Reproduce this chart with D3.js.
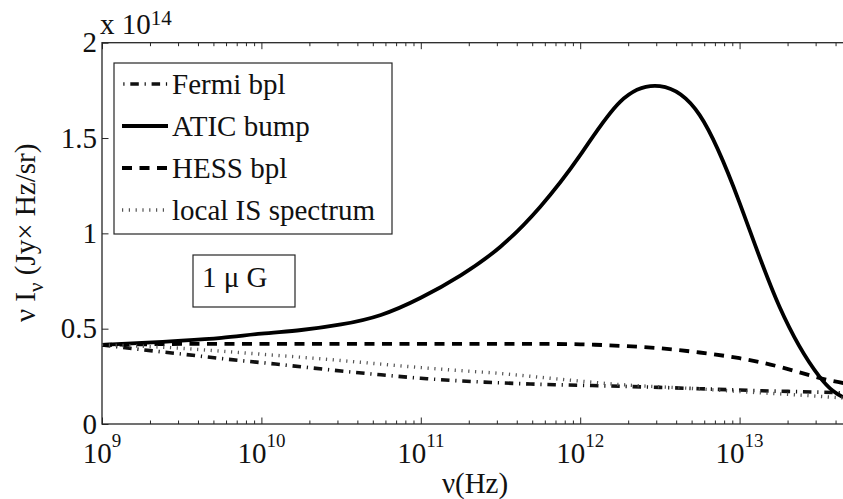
<!DOCTYPE html>
<html>
<head>
<meta charset="utf-8">
<script src="https://cdn.jsdelivr.net/npm/d3@7"></script>
<style>
  body { margin: 0; background: #fff; }
  text { font-family: "Liberation Serif", "Times New Roman", serif; fill: #111; }
</style>
</head>
<body>
<svg id="chart" width="843" height="499"></svg>
<script>
// frequencies (Hz) and nu*I_nu in units of 1e14 Jy Hz/sr
var nu = [1e9, 1.78e9, 3.16e9, 5.62e9, 1e10, 1.78e10, 3.16e10, 5.62e10, 1e11, 1.78e11,
          3.16e11, 5.62e11, 1e12, 1.78e12, 3.16e12, 5.62e12, 1e13, 1.78e13, 3.16e13, 4.47e13];
var fermi = [0.415, 0.39, 0.367, 0.343, 0.322, 0.30, 0.278, 0.258, 0.24, 0.226,
             0.216, 0.208, 0.203, 0.198, 0.192, 0.185, 0.178, 0.172, 0.167, 0.163];
var atic = [0.415, 0.425, 0.437, 0.452, 0.474, 0.493, 0.522, 0.572, 0.662, 0.78,
            0.93, 1.14, 1.41, 1.69, 1.772, 1.62, 1.16, 0.615, 0.25, 0.14];
var hess = [0.415, 0.418, 0.42, 0.42, 0.42, 0.42, 0.42, 0.42, 0.42, 0.42,
            0.42, 0.42, 0.418, 0.41, 0.397, 0.375, 0.345, 0.30, 0.242, 0.215];
var localIS = [0.415, 0.408, 0.397, 0.382, 0.366, 0.35, 0.333, 0.314, 0.296, 0.28,
               0.265, 0.245, 0.225, 0.207, 0.195, 0.184, 0.17, 0.158, 0.145, 0.136];

var seriesNames = ["Fermi bpl", "ATIC bump", "HESS bpl", "local IS spectrum"];
var xMajor = [1e9, 1e10, 1e11, 1e12, 1e13];
var xMajorExp = ["9", "10", "11", "12", "13"];
var yMajor = [0, 0.5, 1, 1.5, 2];
var yLabels = ["0", "0.5", "1", "1.5", "2"];

var svg = d3.select("#chart");
// note: "top" is taken by window.top, so prefix everything
var pLeft = 102, pRight = 851, pTop = 42.7, pBottom = 424;

var x = d3.scaleLog().domain([1e9, 5e13]).range([pLeft, pRight]);
var y = d3.scaleLinear().domain([0, 2]).range([pBottom, pTop]);

svg.append("rect").attr("width", 843).attr("height", 499).attr("fill", "#fff");

svg.append("defs").append("clipPath").attr("id", "plotclip")
  .append("rect").attr("x", pLeft).attr("y", pTop)
  .attr("width", pRight - pLeft).attr("height", pBottom - pTop);

// minor ticks: everything d3 gives for the log scale except the decades
var minor = x.ticks().filter(function(d) { return xMajor.indexOf(d) < 0; });

function tickAxis(axis, tr) {
  var g = svg.append("g").attr("transform", tr).call(axis);
  g.select(".domain").remove();
  g.selectAll("line").attr("stroke", "#262626").attr("stroke-width", 1);
  g.selectAll("text").remove();
  return g;
}

tickAxis(d3.axisBottom(x).tickValues(minor).tickSize(-3.5).tickSizeOuter(0), "translate(0," + pBottom + ")");
tickAxis(d3.axisBottom(x).tickValues(xMajor).tickSize(-6.5).tickSizeOuter(0), "translate(0," + pBottom + ")");
tickAxis(d3.axisTop(x).tickValues(minor).tickSize(-3.5).tickSizeOuter(0), "translate(0," + pTop + ")");
tickAxis(d3.axisTop(x).tickValues(xMajor).tickSize(-6.5).tickSizeOuter(0), "translate(0," + pTop + ")");
tickAxis(d3.axisLeft(y).tickValues(yMajor).tickSize(-6.5).tickSizeOuter(0), "translate(" + pLeft + ",0)");

// frame
svg.append("rect")
  .attr("x", pLeft).attr("y", pTop)
  .attr("width", pRight - pLeft).attr("height", pBottom - pTop)
  .attr("fill", "none").attr("stroke", "#262626").attr("stroke-width", 1.3);

// x tick labels 10^n
xMajor.forEach(function(v, i) {
  var t = svg.append("text")
    .attr("x", x(v)).attr("y", 463)
    .attr("text-anchor", "middle")
    .style("font-size", "29px");
  t.append("tspan").text("10");
  t.append("tspan").attr("dy", -16).style("font-size", "19px").text(xMajorExp[i]);
});

// y tick labels
yMajor.forEach(function(v, i) {
  svg.append("text")
    .attr("x", 97).attr("y", y(v) + 9.5)
    .attr("text-anchor", "end")
    .style("font-size", "29px")
    .text(yLabels[i]);
});

// multiplier
var mult = svg.append("text").attr("x", 100).attr("y", 34).style("font-size", "29px");
mult.append("tspan").text("x 10");
mult.append("tspan").attr("dy", -9).style("font-size", "21px").text("14");

// axis labels
svg.append("text")
  .attr("x", 475).attr("y", 493)
  .attr("text-anchor", "middle")
  .style("font-size", "29px")
  .text("\u03bd(Hz)");

var yl = svg.append("text")
  .attr("transform", "translate(35," + (y(1) - 0.5) + ") rotate(-90)")
  .attr("text-anchor", "middle")
  .style("font-size", "29px");
yl.append("tspan").text("\u03bd I");
yl.append("tspan").attr("dy", 8).style("font-size", "21px").text("\u03bd");
yl.append("tspan").attr("dy", -8).text(" (Jy\u00d7 Hz/sr)");

// curves
var styles = [
  { data: fermi, dash: "8.5,5.8,1.2,5.8", color: "#111", width: 3.6 },
  { data: atic, dash: null, color: "#000", width: 3.8 },
  { data: hess, dash: "10,7.5", color: "#000", width: 3.8 },
  { data: localIS, dash: "1.2,5.6", color: "#555", width: 3.4 }
];

var line = d3.line()
  .x(function(d) { return x(d[0]); })
  .y(function(d) { return y(d[1]); })
  .curve(d3.curveNatural);

var plot = svg.append("g").attr("clip-path", "url(#plotclip)");

styles.forEach(function(s) {
  plot.append("path")
    .attr("d", line(d3.zip(nu, s.data)))
    .attr("fill", "none")
    .attr("stroke", s.color)
    .attr("stroke-width", s.width)
    .attr("stroke-dasharray", s.dash);
});

// legend
var lg = svg.append("g");
lg.append("rect")
  .attr("x", 114).attr("y", 63)
  .attr("width", 278).attr("height", 171)
  .attr("fill", "#fff").attr("stroke", "#262626").attr("stroke-width", 1.2);

seriesNames.forEach(function(name, i) {
  var ry = 84 + i * 42;
  var s = styles[i];
  lg.append("line")
    .attr("x1", 122).attr("x2", 168).attr("y1", ry).attr("y2", ry)
    .attr("stroke", s.color).attr("stroke-width", s.width)
    .attr("stroke-dasharray", s.dash)
    .attr("stroke-dashoffset", i === 0 ? 13 : 0);
  lg.append("text")
    .attr("x", 172).attr("y", ry + 9.5)
    .style("font-size", "29px")
    .text(name);
});

// field strength annotation
svg.append("rect")
  .attr("x", 193).attr("y", 255)
  .attr("width", 102).attr("height", 52)
  .attr("fill", "#fff").attr("stroke", "#262626").attr("stroke-width", 1.2);
svg.append("text")
  .attr("x", 202).attr("y", 287)
  .style("font-size", "29px")
  .text("1 \u03bc G");
</script>
</body>
</html>
